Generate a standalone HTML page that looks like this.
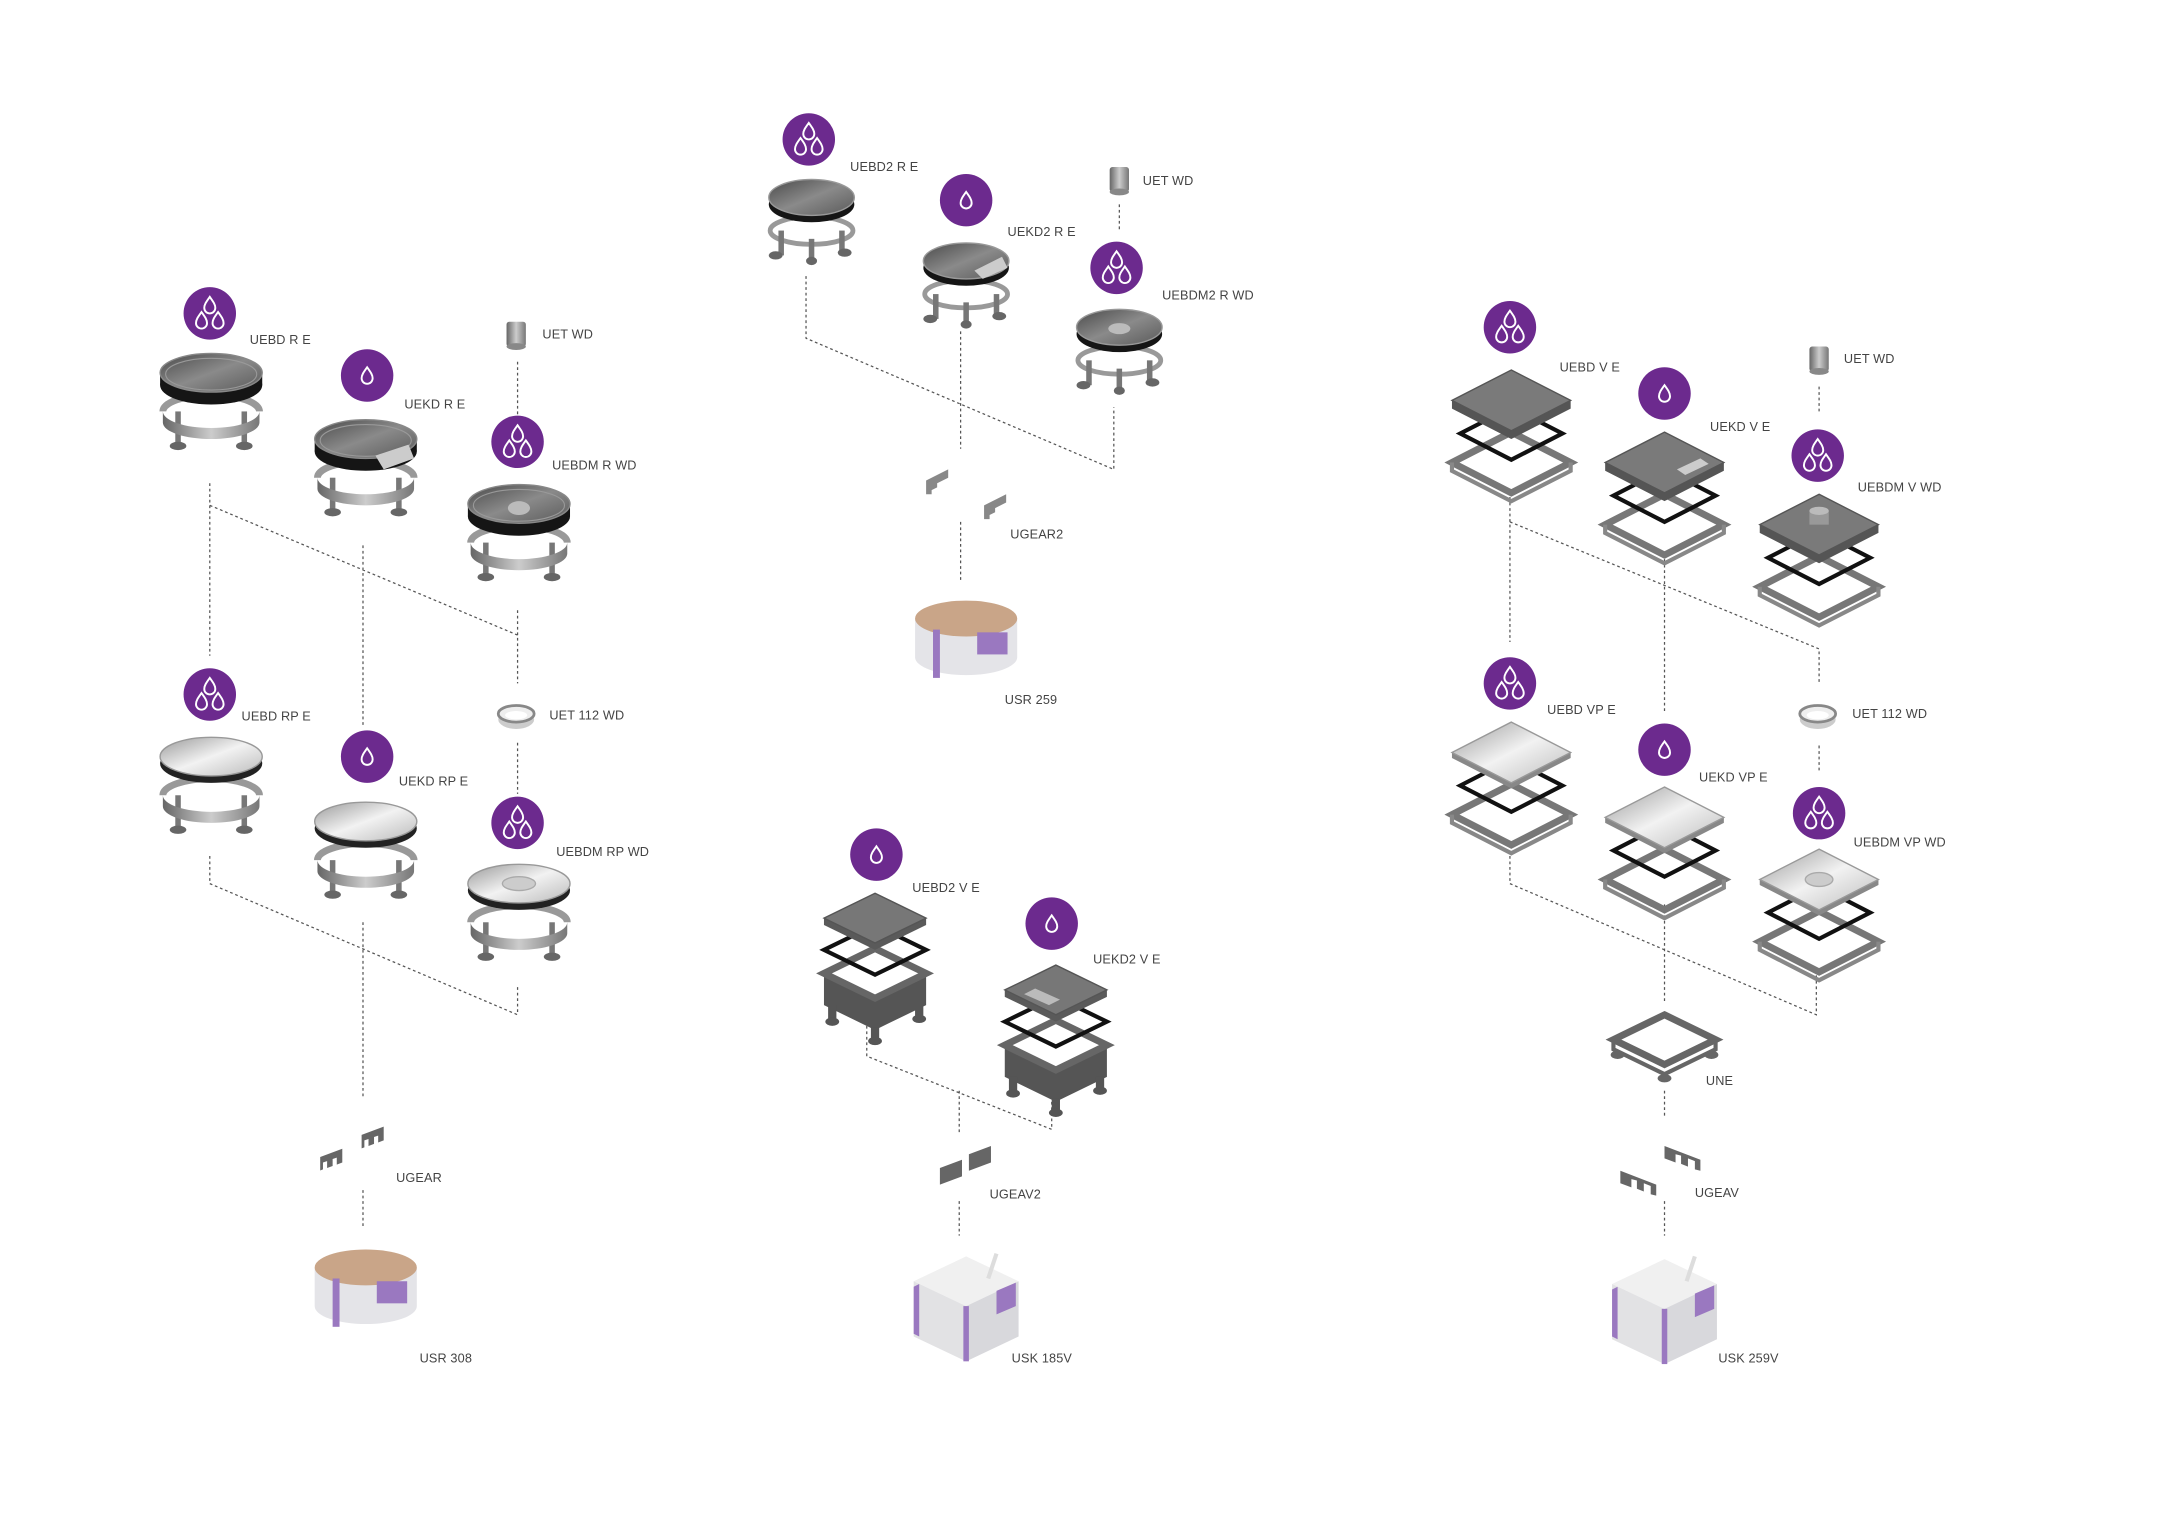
<!DOCTYPE html>
<html><head><meta charset="utf-8"><style>
html,body{margin:0;padding:0;background:#fff;}
svg{display:block}
text{font-family:"Liberation Sans",sans-serif;font-size:9.2px;fill:#444;letter-spacing:0.1px}
</style></head><body>
<svg width="2160" height="1527" viewBox="0 0 1565 1106" preserveAspectRatio="none" xmlns="http://www.w3.org/2000/svg">
<defs>
<linearGradient id="gTop" x1="0" y1="0" x2="1" y2="1"><stop offset="0" stop-color="#4a4a4a"/><stop offset="0.5" stop-color="#8a8a8a"/><stop offset="1" stop-color="#5a5a5a"/></linearGradient>
<linearGradient id="gLight" x1="0" y1="0" x2="1" y2="1"><stop offset="0" stop-color="#9a9a9a"/><stop offset="0.5" stop-color="#f2f2f2"/><stop offset="1" stop-color="#bbb"/></linearGradient>
<linearGradient id="gMet" x1="0" y1="0" x2="1" y2="0"><stop offset="0" stop-color="#666"/><stop offset="0.5" stop-color="#ccc"/><stop offset="1" stop-color="#777"/></linearGradient>
<g id="drop"><path d="M0,-6 C2.5,-2.5 4,-0.5 4,2 A4,4 0 1 1 -4,2 C-4,-0.5 -2.5,-2.5 0,-6Z" fill="none" stroke="#fff" stroke-width="1.4"/></g>
<g id="b1"><circle r="19" fill="#6c2a8e"/><use href="#drop"/></g>
<g id="b3"><circle r="19" fill="#6c2a8e"/><use href="#drop" x="0" y="-6"/><use href="#drop" x="-6" y="5"/><use href="#drop" x="6" y="5"/></g>
<g id="legs">
<path d="M-35,28 A35,12 0 0 1 35,28" fill="none" stroke="#999" stroke-width="5"/>
<rect x="-26" y="28" width="4" height="24" fill="#777"/><rect x="22" y="28" width="4" height="24" fill="#777"/>
<ellipse cx="-24" cy="53" rx="6" ry="3" fill="#666"/><ellipse cx="24" cy="53" rx="6" ry="3" fill="#666"/>
<path d="M-35,28 A35,12 0 0 0 35,28 L35,36 A35,12 0 0 1 -35,36Z" fill="url(#gMet)"/>
</g>
<g id="rtray"><use href="#legs"/>
<ellipse cx="0" cy="9" rx="37" ry="14" fill="#151515"/><rect x="-37" y="0" width="74" height="9" fill="#151515"/>
<ellipse cx="0" cy="0" rx="37" ry="14" fill="url(#gTop)" stroke="#888" stroke-width="1"/>
<ellipse cx="0" cy="1" rx="33" ry="11.5" fill="none" stroke="#999" stroke-width="0.8"/></g>
<g id="rplate"><use href="#legs"/>
<ellipse cx="0" cy="5" rx="37" ry="14" fill="#222"/>
<ellipse cx="0" cy="0" rx="37" ry="14" fill="url(#gLight)" stroke="#999" stroke-width="1"/></g>
<g id="rtray2">
<ellipse cx="0" cy="24" rx="30" ry="10" fill="none" stroke="#999" stroke-width="3.5"/>
<rect x="-24" y="24" width="4" height="18" fill="#777"/><rect x="20" y="24" width="4" height="18" fill="#777"/><rect x="-2" y="30" width="4" height="16" fill="#777"/>
<ellipse cx="-26" cy="42" rx="5" ry="3" fill="#666"/><ellipse cx="24" cy="40" rx="5" ry="3" fill="#666"/><ellipse cx="0" cy="46" rx="4" ry="3" fill="#666"/>
<ellipse cx="0" cy="5" rx="31" ry="13" fill="#151515"/>
<ellipse cx="0" cy="0" rx="31" ry="13" fill="url(#gTop)" stroke="#999"/></g>
<g id="sframe">
<polygon points="0,-22 43,0 0,22 -43,0" fill="none" stroke="#777" stroke-width="5"/>
<path d="M-43,0 L-43,6 L0,28 L43,6 L43,0" fill="none" stroke="#888" stroke-width="3"/></g>
<g id="sgasket"><polygon points="0,-19 37,0 0,19 -37,0" fill="none" stroke="#111" stroke-width="3"/></g>
<g id="stray"><use href="#sframe" y="45"/><use href="#sgasket" y="24"/>
<polygon points="-43,0 0,22 43,0 43,6 0,28 -43,6" fill="#555"/>
<polygon points="0,-22 43,0 0,22 -43,0" fill="#7a7a7a" stroke="#555"/></g>
<g id="splate"><use href="#sframe" y="45"/><use href="#sgasket" y="24"/>
<polygon points="-43,0 0,22 43,0 43,4 0,26 -43,4" fill="#888"/>
<polygon points="0,-22 43,0 0,22 -43,0" fill="url(#gLight)" stroke="#999"/></g>
<g id="btray">
<polygon points="-37,5 -37,28 0,46 37,28 37,5 0,23" fill="#555"/>
<polygon points="-37,5 0,-13 37,5 0,23" fill="none" stroke="#666" stroke-width="5"/>
<rect x="-34" y="28" width="6" height="12" fill="#555"/><rect x="-3" y="44" width="6" height="10" fill="#555"/><rect x="29" y="28" width="6" height="10" fill="#555"/>
<ellipse cx="-31" cy="40" rx="5" ry="3" fill="#555"/><ellipse cx="0" cy="54" rx="5" ry="3" fill="#555"/><ellipse cx="32" cy="38" rx="5" ry="3" fill="#555"/>
<polygon points="-37,-12 0,-30 37,-12 0,6" fill="none" stroke="#111" stroke-width="3"/>
<polygon points="-37,-35 0,-53 37,-35 37,-30 0,-12 -37,-30" fill="#5a5a5a"/>
<polygon points="-37,-35 0,-53 37,-35 0,-17" fill="#777" stroke="#555"/></g>
<g id="pins"><path d="M0,0 l16,-6 l0,10 l-4,1.5 l0,-5 l-3,1 l0,5 l-4,1.5 l0,-5 l-3,1 l0,5 l-2,0.8Z" fill="#666"/></g>
<g id="cyl"><path d="M-37,0 L-37,28 A37,13 0 0 0 37,28 L37,0" fill="#e4e4e8"/>
<ellipse cx="0" cy="0" rx="37" ry="13" fill="#c9a588"/>
<rect x="-24" y="8" width="5" height="35" fill="#9a78c0"/><rect x="8" y="10" width="22" height="16" fill="#9a78c0"/></g>
<g id="box"><polygon points="-38,-10 0,-28 38,-10 0,8" fill="#f0f0f0"/>
<polygon points="-38,-10 0,8 0,48 -38,30" fill="#e2e2e4"/><polygon points="0,8 38,-10 38,30 0,48" fill="#d8d8dc"/>
<rect x="-2" y="8" width="4" height="40" fill="#9a78c0"/><polygon points="22,-3 36,-9 36,8 22,14" fill="#9a78c0"/>
<polygon points="-38,-6 -34,-8 -34,30 -38,28" fill="#9a78c0"/>
<line x1="16" y1="-12" x2="22" y2="-30" stroke="#ddd" stroke-width="3"/></g>
<g id="uet"><rect x="-7" y="-9" width="14" height="18" rx="2" fill="url(#gMet)"/><ellipse cx="0" cy="9" rx="7" ry="2.5" fill="#888"/></g>
<g id="uet112"><ellipse cx="0" cy="4" rx="13" ry="7" fill="#ccc"/><ellipse cx="0" cy="0" rx="13" ry="6" fill="#eee" stroke="#888" stroke-width="2"/><ellipse cx="0" cy="1" rx="8" ry="3" fill="#fff"/></g>
</defs>
<g fill="none" stroke="#555" stroke-width="0.9" stroke-dasharray="2,2">
<path d="M152,350V475 M152,366L375,460 M263,395V525 M375,262V300 M375,442V495 M375,538V575"/>
<path d="M152,620V640L375,735 M375,715V735 M263,668V795 M263,862V890"/>
<path d="M584,200V245L807,340V295 M696,240V325 M811,148V168 M696,378V420"/>
<path d="M628,735V765L762,818V795 M695,790V820 M695,870V895"/>
<path d="M1094,360V465 M1094,378L1318,470V495 M1206,405V515 M1318,280V300 M1318,540V558"/>
<path d="M1094,620V640L1316,735V705 M1206,655V725 M1206,790V808 M1206,870V895"/>
</g>
<use href="#b3" x="152" y="227"/><use href="#rtray" x="153" y="270"/><text x="181" y="249">UEBD R E</text>
<use href="#b1" x="266" y="272"/><use href="#rtray" x="265" y="318"/><text x="293" y="296">UEKD R E</text>
<polygon points="272,330 296,322 300,332 278,340" fill="#ccc"/>
<use href="#uet" x="374" y="242"/><text x="393" y="245">UET WD</text>
<use href="#b3" x="375" y="320"/><use href="#rtray" x="376" y="365"/><text x="400" y="340">UEBDM R WD</text>
<ellipse cx="376" cy="368" rx="8" ry="5" fill="#bbb"/>
<use href="#uet112" x="374" y="517"/><text x="398" y="521">UET 112 WD</text>
<use href="#b3" x="152" y="503"/><use href="#rplate" x="153" y="548"/><text x="175" y="522">UEBD RP E</text>
<use href="#b1" x="266" y="548"/><use href="#rplate" x="265" y="595"/><text x="289" y="569">UEKD RP E</text>
<use href="#b3" x="375" y="596"/><use href="#rplate" x="376" y="640"/><text x="403" y="620">UEBDM RP WD</text>
<ellipse cx="376" cy="640" rx="12" ry="5" fill="#ccc" stroke="#aaa"/>
<use href="#pins" x="262" y="822"/><use href="#pins" x="232" y="838"/><text x="287" y="856">UGEAR</text>
<use href="#cyl" x="265" y="918"/><text x="304" y="987">USR 308</text>

<use href="#b3" x="586" y="101"/><use href="#rtray2" x="588" y="143"/><text x="616" y="124">UEBD2 R E</text>
<use href="#b1" x="700" y="145"/><use href="#rtray2" x="700" y="189"/><text x="730" y="171">UEKD2 R E</text>
<polygon points="706,196 726,186 730,194 712,202" fill="#ccc"/>
<use href="#uet" x="811" y="130"/><text x="828" y="134">UET WD</text>
<use href="#b3" x="809" y="194"/><use href="#rtray2" x="811" y="237"/><text x="842" y="217">UEBDM2 R WD</text>
<ellipse cx="811" cy="238" rx="8" ry="4" fill="#bbb"/>
<path d="M671,358 l0,-10 l16,-8 l0,6 l-8,4 l0,3 l-4,2 l0,3Z" fill="#888"/><path d="M713,376 l0,-10 l16,-8 l0,6 l-8,4 l0,3 l-4,2 l0,3Z" fill="#888"/>
<text x="732" y="390">UGEAR2</text>
<use href="#cyl" x="700" y="448"/><text x="728" y="510">USR 259</text>
<use href="#b1" x="635" y="619"/><use href="#btray" x="634" y="700"/><text x="661" y="646">UEBD2 V E</text>
<use href="#b1" x="762" y="669"/><use href="#btray" x="765" y="752"/><text x="792" y="698">UEKD2 V E</text>
<polygon points="742,720 760,728 768,724 750,716" fill="#bbb"/>
<polygon points="681,846 697,840 697,852 681,858" fill="#666"/><polygon points="702,836 718,830 718,842 702,848" fill="#666"/>
<text x="717" y="868">UGEAV2</text>
<use href="#box" x="700" y="938"/><text x="733" y="987">USK 185V</text>

<use href="#b3" x="1094" y="237"/><use href="#stray" x="1095" y="290"/><text x="1130" y="269">UEBD V E</text>
<use href="#b1" x="1206" y="285"/><use href="#stray" x="1206" y="335"/><text x="1239" y="312">UEKD V E</text>
<polygon points="1215,340 1232,332 1238,336 1221,344" fill="#ccc"/>
<use href="#uet" x="1318" y="260"/><text x="1336" y="263">UET WD</text>
<use href="#b3" x="1317" y="330"/><use href="#stray" x="1318" y="380"/><text x="1346" y="356">UEBDM V WD</text>
<rect x="1311" y="370" width="14" height="10" fill="#999"/><ellipse cx="1318" cy="370" rx="7" ry="3" fill="#bbb"/>
<use href="#uet112" x="1317" y="517"/><text x="1342" y="520">UET 112 WD</text>
<use href="#b3" x="1094" y="495"/><use href="#splate" x="1095" y="545"/><text x="1121" y="517">UEBD VP E</text>
<use href="#b1" x="1206" y="543"/><use href="#splate" x="1206" y="592"/><text x="1231" y="566">UEKD VP E</text>
<use href="#b3" x="1318" y="589"/><use href="#splate" x="1318" y="637"/><text x="1343" y="613">UEBDM VP WD</text>
<ellipse cx="1318" cy="637" rx="10" ry="5" fill="#ccc" stroke="#aaa"/>
<polygon points="1206,735 1243,753 1206,771 1169,753" fill="none" stroke="#666" stroke-width="5"/>
<path d="M1169,753 L1169,760 L1206,778 L1243,760 L1243,753" fill="none" stroke="#666" stroke-width="3"/>
<ellipse cx="1206" cy="781" rx="5" ry="3" fill="#666"/><ellipse cx="1172" cy="764" rx="5" ry="3" fill="#666"/><ellipse cx="1240" cy="764" rx="5" ry="3" fill="#666"/>
<text x="1236" y="786">UNE</text>
<path d="M1206,820 l0,10 l26,10 l0,8 l-4,-1 l0,-6 l-5,-2 l0,6 l-5,-2 l0,-6 l-4,-1 l0,6 l-8,-3Z" fill="#666"/>
<path d="M1174,838 l0,10 l26,10 l0,8 l-4,-1 l0,-6 l-5,-2 l0,6 l-5,-2 l0,-6 l-4,-1 l0,6 l-8,-3Z" fill="#666"/>
<text x="1228" y="867">UGEAV</text>
<use href="#box" x="1206" y="940"/><text x="1245" y="987">USK 259V</text>
</svg>
</body></html>
